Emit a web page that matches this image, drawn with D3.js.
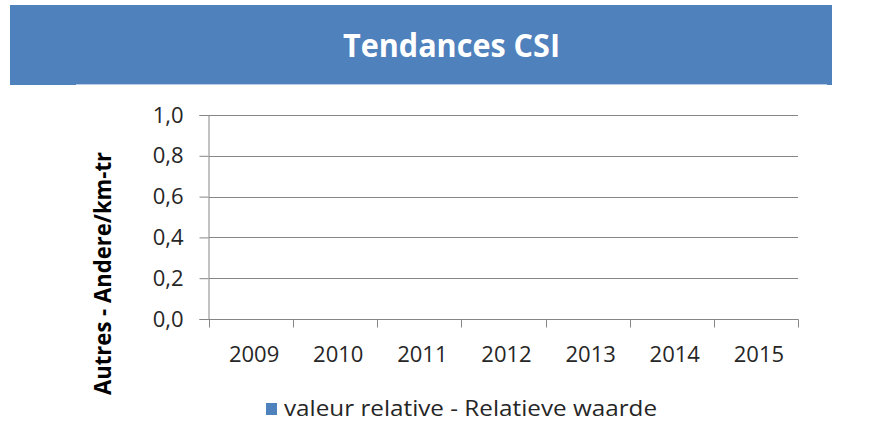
<!DOCTYPE html>
<html>
<head>
<meta charset="utf-8">
<script src="https://cdn.jsdelivr.net/npm/d3@7"></script>
<style>
  body { margin: 0; background: #fff; }
  svg { display: block; }
</style>
</head>
<body>
<div id="chart"></div>
<script>
// chart data
var years = ["2009", "2010", "2011", "2012", "2013", "2014", "2015"];
var values = [null, null, null, null, null, null, null]; // no values shown
var yTicks = [0, 0.2, 0.4, 0.6, 0.8, 1.0];
var seriesName = "valeur relative - Relatieve waarde";
var title = "Tendances CSI";
var yTitle = "Autres - Andere/km-tr";

var W = 893, H = 423;
var font = "'Open Sans', 'DejaVu Sans', sans-serif";

var svg = d3.select("#chart").append("svg")
    .attr("width", W)
    .attr("height", H);

// title banner
svg.append("rect")
    .attr("x", 10).attr("y", 5)
    .attr("width", 822).attr("height", 80)
    .attr("fill", "#4f81bd");

svg.append("line")
    .attr("x1", 76).attr("x2", 827)
    .attr("y1", 84.5).attr("y2", 84.5)
    .attr("stroke", "#b9cde5").attr("stroke-width", 1);

svg.append("text")
    .attr("x", 343).attr("y", 57)
    .attr("fill", "#fff")
    .attr("textLength", 217)
    .attr("lengthAdjust", "spacingAndGlyphs")
    .style("font-family", font)
    .style("font-weight", "bold")
    .style("font-size", "33px")
    .text(title);

// plot area
var x = d3.scaleBand()
    .domain(years)
    .range([209, 798]);

var y = d3.scaleLinear()
    .domain([0, 1])
    .range([319, 115]);

// gridlines
svg.append("g")
    .selectAll("line")
    .data(yTicks.filter(function (d) { return d > 0; }))
    .enter().append("line")
    .attr("x1", 209).attr("x2", 798)
    .attr("y1", function (d) { return Math.round(y(d)) + 0.5; })
    .attr("y2", function (d) { return Math.round(y(d)) + 0.5; })
    .attr("stroke", "#868686");

// bars (none have values)
svg.append("g")
    .selectAll("rect")
    .data(years.map(function (d, i) { return { year: d, value: values[i] }; })
        .filter(function (d) { return d.value != null; }))
    .enter().append("rect")
    .attr("x", function (d) { return x(d.year) + x.bandwidth() * 0.2; })
    .attr("width", x.bandwidth() * 0.6)
    .attr("y", function (d) { return y(d.value); })
    .attr("height", function (d) { return y(0) - y(d.value); })
    .attr("fill", "#4f81bd");

// y axis
var yAxis = svg.append("g")
    .attr("transform", "translate(208.5,0)")
    .call(d3.axisLeft(y)
        .tickValues(yTicks)
        .tickSize(9)
        .tickPadding(16)
        .tickFormat(function (d) { return d3.format(".1f")(d).replace(".", ","); }));

// x axis: ticks at category boundaries
var xAxis = svg.append("g")
    .attr("transform", "translate(0,319.5)");

xAxis.append("line")
    .attr("x1", 208.5).attr("x2", 798.5)
    .attr("stroke", "#868686");

xAxis.selectAll(".tick")
    .data(years.concat(["end"]))
    .enter().append("line")
    .attr("x1", function (d, i) { return Math.round(i < years.length ? x(d) : x.range()[1]) + 0.5; })
    .attr("x2", function (d, i) { return Math.round(i < years.length ? x(d) : x.range()[1]) + 0.5; })
    .attr("y1", 0).attr("y2", 8)
    .attr("stroke", "#868686");

xAxis.selectAll("text")
    .data(years)
    .enter().append("text")
    .attr("x", function (d) { return x(d) + x.bandwidth() / 2 + 3; })
    .attr("y", 42.5)
    .attr("text-anchor", "middle")
    .attr("fill", "#262626")
    .style("font-family", font)
    .style("font-size", "22px")
    .text(function (d) { return d; });

yAxis.select(".domain").attr("stroke", "#868686");
yAxis.selectAll(".tick line").attr("stroke", "#868686");
yAxis.selectAll(".tick text")
    .attr("fill", "#262626")
    .style("font-family", font)
    .style("font-size", "22px");

// y title
svg.append("text")
    .attr("transform", "translate(111,395) rotate(-90)")
    .attr("fill", "#000")
    .attr("textLength", 243)
    .attr("lengthAdjust", "spacingAndGlyphs")
    .style("font-family", font)
    .style("font-weight", "bold")
    .style("font-size", "23px")
    .text(yTitle);

// legend
svg.append("rect")
    .attr("x", 266).attr("y", 403)
    .attr("width", 11).attr("height", 12)
    .attr("fill", "#4f81bd");

svg.append("text")
    .attr("x", 284).attr("y", 416)
    .attr("fill", "#262626")
    .attr("textLength", 373)
    .attr("lengthAdjust", "spacingAndGlyphs")
    .style("font-family", font)
    .style("font-size", "21px")
    .text(seriesName);
</script>
</body>
</html>
